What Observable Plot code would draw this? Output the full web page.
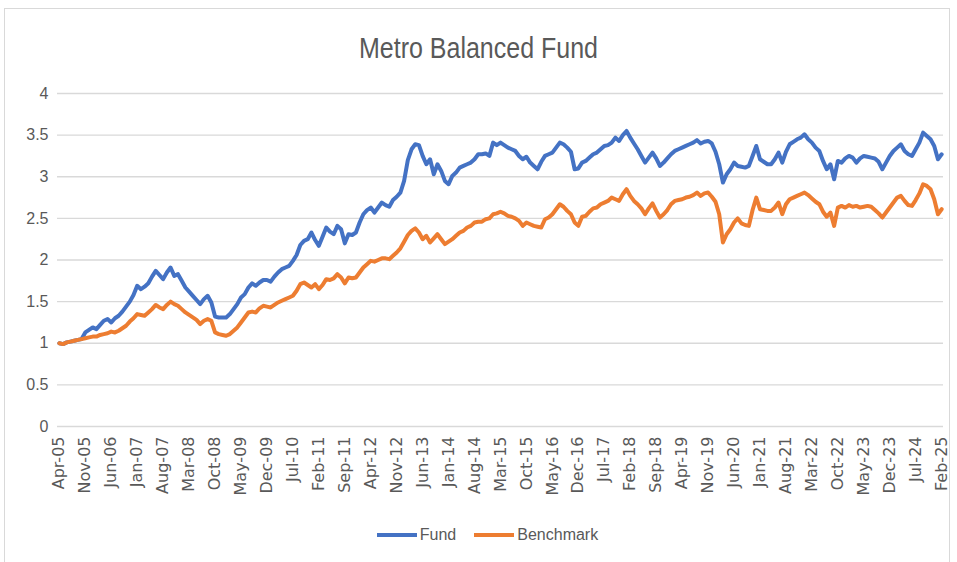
<!DOCTYPE html>
<html>
<head>
<meta charset="utf-8">
<script src="https://cdn.jsdelivr.net/npm/d3@7"></script>
<script src="https://cdn.jsdelivr.net/npm/@observablehq/plot@0.6"></script>
<style>
  html, body { margin: 0; padding: 0; background: #fff; }
  #wrap { position: relative; width: 957px; height: 562px; overflow: hidden; }
  #frame { position: absolute; left: 4px; top: 8px; width: 946px; height: 560px; border: 1px solid #d9d9d9; box-sizing: border-box; }
  #title { position: absolute; left: 0; width: 957px; top: 30px; text-align: center; font-family: "Liberation Sans", Arial, sans-serif; font-size: 25px; color: #595959; transform: scaleY(1.2); transform-origin: center top; }
  #chart { position: absolute; left: 0; top: 0; }
  #legend { position: absolute; top: 526px; left: 0; width: 957px; display: flex; justify-content: center; align-items: center; font-family: "Liberation Sans", Arial, sans-serif; font-size: 16px; color: #595959; padding-left: 18px; box-sizing: border-box; }
  .sw { display: inline-block; width: 40px; height: 4px; margin-right: 3px; }
  .item { display: flex; align-items: center; margin: 0 9px; }
</style>
</head>
<body>
<div id="wrap">
  <div id="frame"></div>
  <div id="chart"></div>
  <div id="title">Metro Balanced Fund</div>
  <div id="legend"></div>
</div>
<script>
// Monthly values, Apr-05 .. Feb-25 (239 months)
const fund = [
1.00,0.99,1.01,1.02,1.03,1.04,1.05,1.13,1.16,1.19,1.17,1.22,1.27,1.29,1.25,1.30,1.33,1.38,1.44,1.50,
1.58,1.69,1.65,1.68,1.72,1.80,1.87,1.82,1.77,1.85,1.91,1.81,1.83,1.75,1.67,1.62,1.57,1.52,1.47,1.53,
1.57,1.49,1.32,1.31,1.31,1.31,1.35,1.41,1.47,1.55,1.59,1.67,1.72,1.69,1.73,1.76,1.76,1.74,1.80,1.85,
1.89,1.91,1.93,1.99,2.06,2.18,2.23,2.25,2.33,2.24,2.17,2.28,2.39,2.34,2.31,2.41,2.37,2.20,2.31,2.30,
2.33,2.45,2.55,2.60,2.63,2.57,2.63,2.69,2.66,2.64,2.72,2.76,2.81,2.95,3.20,3.33,3.39,3.38,3.25,3.15,
3.21,3.03,3.15,3.07,2.95,2.91,3.01,3.05,3.11,3.13,3.15,3.17,3.21,3.27,3.27,3.28,3.25,3.41,3.38,3.41,
3.38,3.35,3.33,3.31,3.25,3.21,3.24,3.17,3.13,3.09,3.18,3.25,3.27,3.29,3.35,3.41,3.39,3.35,3.30,3.09,
3.10,3.17,3.19,3.23,3.27,3.29,3.33,3.37,3.38,3.41,3.47,3.43,3.50,3.55,3.47,3.40,3.33,3.25,3.17,3.23,
3.29,3.22,3.13,3.17,3.22,3.27,3.31,3.33,3.35,3.37,3.39,3.41,3.44,3.40,3.42,3.43,3.40,3.30,3.15,2.93,
3.03,3.09,3.17,3.13,3.12,3.11,3.13,3.25,3.37,3.21,3.18,3.15,3.15,3.21,3.29,3.17,3.30,3.39,3.42,3.45,
3.47,3.51,3.45,3.41,3.35,3.31,3.19,3.09,3.15,2.97,3.19,3.17,3.22,3.25,3.23,3.17,3.22,3.25,3.24,3.23,
3.22,3.18,3.09,3.17,3.25,3.31,3.35,3.39,3.31,3.27,3.25,3.33,3.41,3.53,3.49,3.45,3.37,3.21,3.27
];
const benchmark = [
1.00,0.99,1.01,1.02,1.03,1.04,1.05,1.06,1.07,1.08,1.08,1.10,1.11,1.12,1.14,1.13,1.15,1.18,1.21,1.26,
1.30,1.35,1.34,1.33,1.37,1.41,1.46,1.43,1.41,1.46,1.50,1.47,1.45,1.41,1.37,1.34,1.31,1.28,1.23,1.27,
1.29,1.27,1.13,1.11,1.10,1.09,1.11,1.15,1.19,1.25,1.31,1.37,1.38,1.37,1.42,1.45,1.44,1.43,1.46,1.49,
1.51,1.53,1.55,1.57,1.63,1.71,1.73,1.70,1.67,1.71,1.65,1.70,1.77,1.76,1.78,1.83,1.79,1.72,1.79,1.78,
1.79,1.85,1.91,1.95,1.99,1.98,2.00,2.02,2.02,2.01,2.05,2.09,2.14,2.22,2.30,2.35,2.38,2.33,2.25,2.29,
2.21,2.26,2.31,2.25,2.19,2.22,2.25,2.29,2.33,2.35,2.39,2.41,2.45,2.46,2.46,2.49,2.50,2.55,2.56,2.58,
2.56,2.53,2.52,2.50,2.47,2.41,2.45,2.43,2.41,2.40,2.39,2.49,2.51,2.55,2.61,2.67,2.64,2.59,2.55,2.45,
2.41,2.52,2.53,2.58,2.62,2.63,2.67,2.69,2.71,2.75,2.73,2.71,2.79,2.85,2.77,2.71,2.67,2.62,2.55,2.62,
2.68,2.59,2.51,2.55,2.60,2.67,2.71,2.72,2.73,2.75,2.76,2.78,2.81,2.77,2.80,2.81,2.76,2.70,2.55,2.21,
2.31,2.37,2.45,2.50,2.44,2.42,2.41,2.60,2.75,2.61,2.60,2.59,2.59,2.63,2.69,2.55,2.67,2.73,2.75,2.77,
2.79,2.81,2.78,2.74,2.70,2.67,2.58,2.52,2.57,2.41,2.63,2.65,2.63,2.66,2.64,2.65,2.63,2.64,2.65,2.64,
2.60,2.56,2.51,2.57,2.63,2.69,2.75,2.77,2.71,2.66,2.65,2.72,2.80,2.91,2.89,2.85,2.73,2.55,2.61
];
// Category labels shown on the axis (every 7th month)
const tickLabels = ["Apr-05","Nov-05","Jun-06","Jan-07","Aug-07","Mar-08","Oct-08","May-09","Dec-09","Jul-10",
  "Feb-11","Sep-11","Apr-12","Nov-12","Jun-13","Jan-14","Aug-14","Mar-15","Oct-15","May-16",
  "Dec-16","Jul-17","Feb-18","Sep-18","Apr-19","Nov-19","Jun-20","Jan-21","Aug-21","Mar-22",
  "Oct-22","May-23","Dec-23","Jul-24","Feb-25"];
const tickStep = 7;
const yTicks = [0, 0.5, 1, 1.5, 2, 2.5, 3, 3.5, 4];
const seriesNames = ["Fund", "Benchmark"];
const seriesColors = ["#4472C4", "#ED7D31"];

const n = fund.length;
const tickIdx = tickLabels.map((_, k) => k * tickStep);
const rows = [];
fund.forEach((v, i) => rows.push({i, v, s: seriesNames[0]}));
benchmark.forEach((v, i) => rows.push({i, v, s: seriesNames[1]}));

const chart = Plot.plot({
  width: 957,
  height: 525,
  marginTop: 93,
  marginLeft: 57,
  marginRight: 14,
  marginBottom: 99,
  style: { background: "transparent", overflow: "visible" },
  x: { domain: [-0.5, n - 0.5] },
  y: { domain: [0, 4] },
  color: { domain: seriesNames, range: seriesColors },
  marks: [
    Plot.gridY(yTicks, { stroke: "#d9d9d9", strokeOpacity: 1, strokeWidth: 1.3 }),
    Plot.axisY(yTicks, { tickSize: 0, tickPadding: 9, tickFormat: d => String(d), fontSize: 16, fontFamily: "Liberation Sans, Arial, sans-serif", fill: "#595959", label: null }),
    Plot.axisX(tickIdx, { tickSize: 0, tickPadding: 10, tickRotate: -90, tickFormat: d => tickLabels[d / tickStep], fontSize: 16, fontFamily: "DejaVu Sans, sans-serif", fill: "#595959", label: null }),
    Plot.line(rows, { x: "i", y: "v", z: "s", stroke: "s", strokeWidth: 4, strokeLinejoin: "round", strokeLinecap: "round", sort: null })
  ]
});
document.getElementById("chart").appendChild(chart);

const legend = document.getElementById("legend");
seriesNames.forEach((name, k) => {
  const it = document.createElement("div");
  it.className = "item";
  const sw = document.createElement("span");
  sw.className = "sw";
  sw.style.background = seriesColors[k];
  it.appendChild(sw);
  it.appendChild(document.createTextNode(name));
  legend.appendChild(it);
});
</script>
</body>
</html>
